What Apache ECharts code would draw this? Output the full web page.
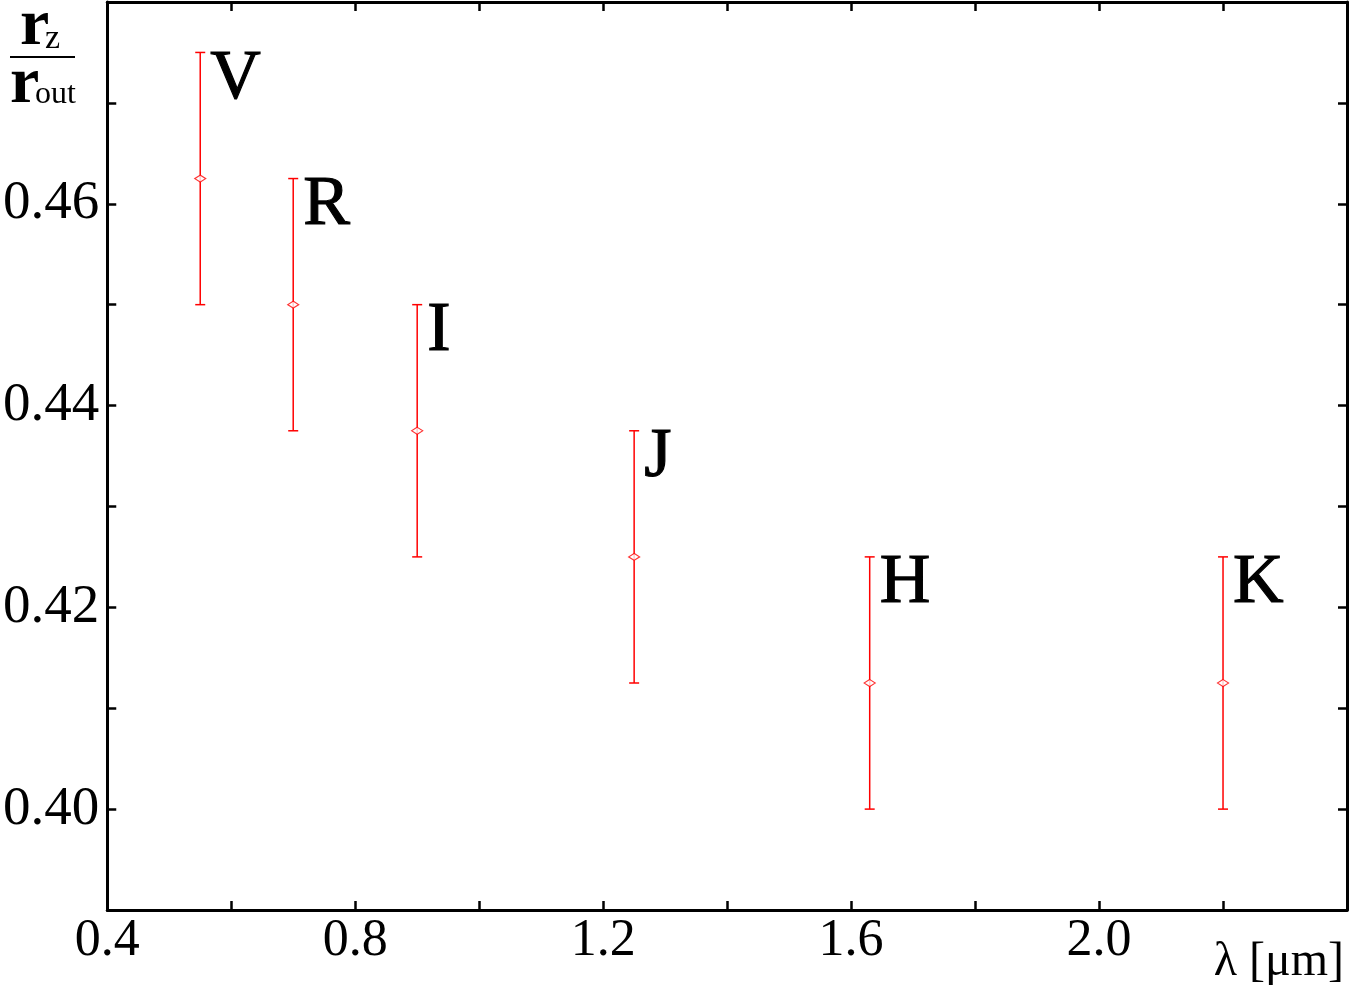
<!DOCTYPE html>
<html>
<head>
<meta charset="utf-8">
<script src="https://cdn.jsdelivr.net/npm/echarts@6/dist/echarts.min.js"></script>
<style>
html, body { margin: 0; padding: 0; background: #fff; }
#chart { width: 1350px; height: 988px; }
</style>
</head>
<body>
<div id="chart"></div>
<script>
// bands and their wavelengths (micron)
const bands = ['V', 'R', 'I', 'J', 'H', 'K'];
const wavelength = [0.55, 0.70, 0.90, 1.25, 1.63, 2.20];
// r_z / r_out value with lower and upper error limits
const ratio = [0.4625, 0.4500, 0.4375, 0.4250, 0.4125, 0.4125];
const ratioLow = [0.4500, 0.4375, 0.4250, 0.4125, 0.4000, 0.4000];
const ratioHigh = [0.4750, 0.4625, 0.4500, 0.4375, 0.4250, 0.4250];

const FONT = '"Liberation Serif", "DejaVu Serif", serif';
const RED = '#ff0000';

let chart = echarts.init(document.getElementById('chart'));

let errData = bands.map((b, i) => [wavelength[i], ratioLow[i], ratioHigh[i], i]);
let ptData = bands.map((b, i) => [wavelength[i], ratio[i]]);

function renderErr(params, api) {
  let x = api.value(0);
  let lo = api.coord([x, api.value(1)]);
  let hi = api.coord([x, api.value(2)]);
  let cap = 5;
  let lineStyle = { stroke: RED, lineWidth: 1.5 };
  return {
    type: 'group',
    children: [
      { type: 'line', shape: { x1: hi[0], y1: hi[1], x2: lo[0], y2: lo[1] }, style: lineStyle },
      { type: 'line', shape: { x1: hi[0] - cap, y1: hi[1], x2: hi[0] + cap, y2: hi[1] }, style: lineStyle },
      { type: 'line', shape: { x1: lo[0] - cap, y1: lo[1], x2: lo[0] + cap, y2: lo[1] }, style: lineStyle },
      {
        type: 'text',
        x: hi[0] + 10,
        y: hi[1] - 8,
        style: {
          text: bands[api.value(3)],
          fill: '#000',
          stroke: '#000',
          lineWidth: 1.2,
          font: 'normal 70px ' + FONT,
          textAlign: 'left',
          textVerticalAlign: 'top'
        }
      }
    ]
  };
}

let axisCommon = {
  axisLine: { show: true, onZero: false, lineStyle: { color: '#000', width: 3 } },
  axisTick: { show: true, inside: true, length: 9, lineStyle: { color: '#000', width: 2.5 } },
  splitLine: { show: false }
};

let chartOpt = {
  animation: false,
  backgroundColor: '#fff',
  grid: { left: 106, right: 3, top: 2, bottom: 78 },
  xAxis: [
    Object.assign({
      type: 'value', position: 'bottom', min: 0.4, max: 2.4, interval: 0.2,
      axisLabel: {
        margin: 5,
        color: '#000',
        fontFamily: FONT,
        fontSize: 52,
        showMaxLabel: true,
        formatter: v => (Math.round(v * 10) % 4 === 0 && v < 2.3) ? v.toFixed(1) : ''
      }
    }, axisCommon),
    Object.assign({
      type: 'value', position: 'top', min: 0.4, max: 2.4, interval: 0.2,
      axisLabel: { show: false }
    }, axisCommon)
  ],
  yAxis: [
    Object.assign({
      type: 'value', position: 'left', min: 0.39, max: 0.48, interval: 0.01,
      axisLabel: {
        margin: 8,
        color: '#000',
        fontFamily: FONT,
        fontSize: 55,
        formatter: v => (Math.round(v * 100) % 2 === 0 && v < 0.475) ? v.toFixed(2) : ''
      }
    }, axisCommon),
    Object.assign({
      type: 'value', position: 'right', min: 0.39, max: 0.48, interval: 0.01,
      axisLabel: { show: false }
    }, axisCommon)
  ],
  series: [
    {
      type: 'custom',
      renderItem: renderErr,
      data: errData,
      encode: { x: 0, y: [1, 2] },
      z: 2
    },
    {
      type: 'scatter',
      data: ptData,
      symbol: 'diamond',
      symbolSize: [11, 7],
      itemStyle: { color: '#fff', borderColor: RED, borderWidth: 1.2 },
      z: 3
    }
  ],
  graphic: [
    { type: 'text', left: 20, top: -6, style: { text: 'r', font: 'bold 66px ' + FONT, fill: '#000' } },
    { type: 'text', left: 45, top: 22, style: { text: 'z', font: 'normal 34px ' + FONT, fill: '#000' } },
    { type: 'rect', shape: { x: 10, y: 56, width: 65, height: 2 }, style: { fill: '#000' } },
    { type: 'text', left: 10, top: 52, style: { text: 'r', font: 'bold 66px ' + FONT, fill: '#000' } },
    { type: 'text', left: 35, top: 79, style: { text: 'out', font: 'normal 32px ' + FONT, fill: '#000' } },
    { type: 'text', right: 6, top: 938, style: { text: 'λ [μm]', font: 'normal 48px ' + FONT, fill: '#000' } }
  ]
};

chart.setOption(chartOpt);
</script>
</body>
</html>
